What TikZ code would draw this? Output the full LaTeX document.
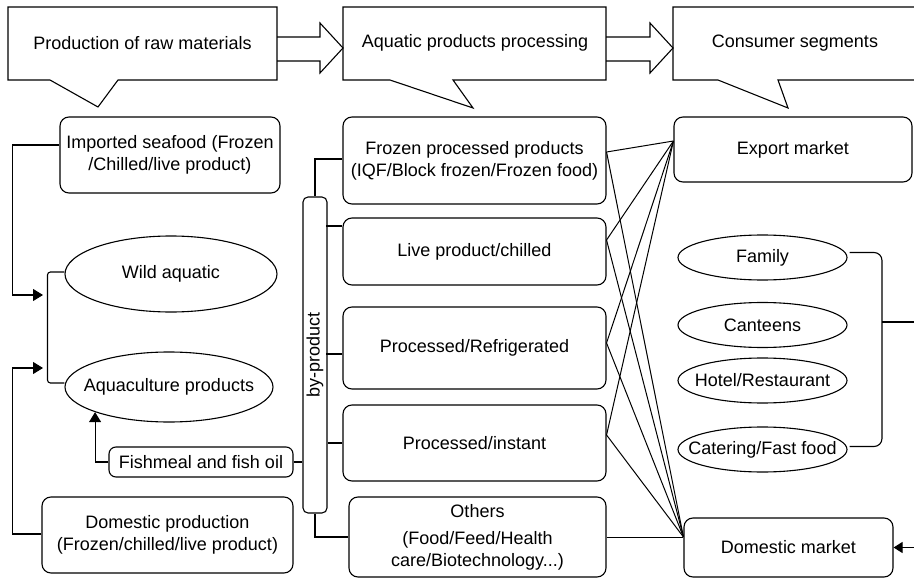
\documentclass[tikz,border=0pt]{standalone}
\usepackage{fontspec}
\setmainfont{Liberation Sans}
\usetikzlibrary{shapes.geometric,arrows.meta,calc}

\begin{document}
\begin{tikzpicture}[x=1pt,y=-1pt,line width=1.1pt,
  font=\fontsize{18}{22}\selectfont,
  rbox/.style={draw,rounded corners=9,inner sep=0pt,align=center},
  oval/.style={draw,ellipse,inner sep=0pt},
  lbl/.style={inner sep=0pt},
  arr/.style={-{Triangle[length=10pt,width=12pt]}},
  arrs/.style={-{Triangle[length=9pt,width=11pt]}}]

\useasboundingbox (0,0) rectangle (914,578);
\clip (0,0) rectangle (914,578);

% ---- header callouts and block arrows ----
\draw (8,7) -- (277,7) -- (277,80) -- (118,80) -- (98,107) -- (50,80) -- (8,80) -- cycle;
\draw (343,7) -- (606,7) -- (606,80) -- (453,80) -- (473,108) -- (390,80) -- (343,80) -- cycle;
\draw (673,7) -- (930,7) -- (930,80) -- (778,80) -- (788,108) -- (718,80) -- (673,80) -- cycle;
\node[lbl] (hRaw)  at (142.5,43) {Production of raw materials};
\node[lbl] (hProc) at (475,43)   {Aquatic products processing};
\node[lbl] (hCons) at (795,43)   {Consumer segments};

\draw (277,37) -- (320,37) -- (320,23) -- (343,48) -- (320,73) -- (320,61) -- (277,61);
\draw (606,37) -- (650,37) -- (650,23) -- (673,48) -- (650,73) -- (650,61) -- (606,61);

% ---- raw materials ----
\node[rbox,minimum width=220,minimum height=76] (imp) at (170,155)
  {Imported seafood (Frozen\\/Chilled/live product)};
\node[oval,minimum width=212,minimum height=76] (wild) at (171,274) {\makebox[0pt]{Wild aquatic}};
\node[oval,minimum width=208,minimum height=70] (aqua) at (169,387) {\makebox[0pt]{Aquaculture products}};
\node[rbox,rounded corners=7,minimum width=184,minimum height=30] (fish) at (201,462)
  {Fishmeal and fish oil};
\node[rbox,minimum width=251,minimum height=76] (dom) at (167.5,535)
  {Domestic production\\(Frozen/chilled/live product)};

\coordinate (inA) at (43,295);
\coordinate (inB) at (43,368);
\draw[arr] ($(imp.west)+(0,-10)$) -- ++(-47,0) |- (inA);
\draw[arr] ($(dom.west)+(0,-1)$) -- ++(-29,0) |- (inB);
\draw[rounded corners=3] ($(wild.west)+(0,-2)$) -- ++(-17,0) |- ($(aqua.west)+(0,-4)$);
\draw[arr] (fish.west) -| (aqua.south west);

% ---- processing ----
\node[draw,rounded corners=5,minimum width=24,minimum height=316,inner sep=0pt,
  label={[rotate=90]center:by-product}] (bar) at (315,355) {};
\node[rbox,minimum width=263,minimum height=87] (froz) at (474.5,160.5)
  {Frozen processed products\\(IQF/Block frozen/Frozen food)};
\node[rbox,minimum width=263,minimum height=67] (live) at (474.5,251.5) {Live product/chilled};
\node[rbox,minimum width=263,minimum height=82] (refr) at (474.5,348) {Processed/Refrigerated};
\node[rbox,minimum width=263,minimum height=76] (inst) at (474.5,443) {Processed/instant};
\node[rbox,minimum width=257,minimum height=80] (oth) at (477.5,537)
  {Others\\[5pt](Food/Feed/Health\\care/Biotechnology...)};

\draw ($(froz.west)+(0,-1.5)$) -| (bar.north);
\draw ($(live.west)+(0,-25.5)$) -- ($(live.west)+(-16,-25.5)$);
\draw ($(refr.west)+(0,6)$) -- ($(refr.west)+(-16,6)$);
\draw (inst.west) -- (inst.west -| bar.east);
\draw (fish.east) -- (fish.east -| bar.west);
\draw (bar.south) |- (oth.west);

% ---- consumer segments ----
\node[rbox,minimum width=238,minimum height=65] (exp) at (793,149.5) {Export market};
\node[oval,minimum width=169,minimum height=45] (fam)   at (762.5,257.5) {\makebox[0pt]{Family}};
\node[oval,minimum width=169,minimum height=45] (cant)  at (762.5,325)   {\makebox[0pt]{Canteens}};
\node[oval,minimum width=169,minimum height=45] (hotel) at (762.5,380.5) {\makebox[0pt]{Hotel/Restaurant}};
\node[oval,minimum width=169,minimum height=45] (cat)   at (762.5,449.5) {\makebox[0pt]{Catering/Fast food}};
\node[rbox,minimum width=209,minimum height=59] (domm) at (788.5,547.5) {Domestic market};

\coordinate (rb) at (882,322);
\coordinate (rbOut) at (916,322);
\coordinate (dmSrc) at (916,547.5);
\draw[rounded corners=8] ($(fam.east)+(2,-5)$) -| (rb) |- ($(cat.east)+(2,-3)$);
\draw (rb) -- (rbOut);
\draw[arrs] (dmSrc) -- (domm.east);

% ---- links from products to markets ----
\coordinate (fR) at ($(froz.east)+(0,-8.5)$);
\coordinate (lR) at ($(live.east)+(0,-11.5)$);
\coordinate (rR) at ($(refr.east)+(0,-5)$);
\coordinate (iR) at ($(inst.east)+(0,-8)$);
\coordinate (eIn) at ($(exp.west)+(0,-8.5)$);
\coordinate (dIn) at ($(domm.west)+(0,-10.5)$);
\begin{scope}[line width=1pt]
\foreach \p in {fR,lR,rR,iR} {
  \draw (\p) -- (eIn);
  \draw (\p) -- (dIn);
}
\draw (oth.east) -- (dIn);
\end{scope}

\end{tikzpicture}
\end{document}
